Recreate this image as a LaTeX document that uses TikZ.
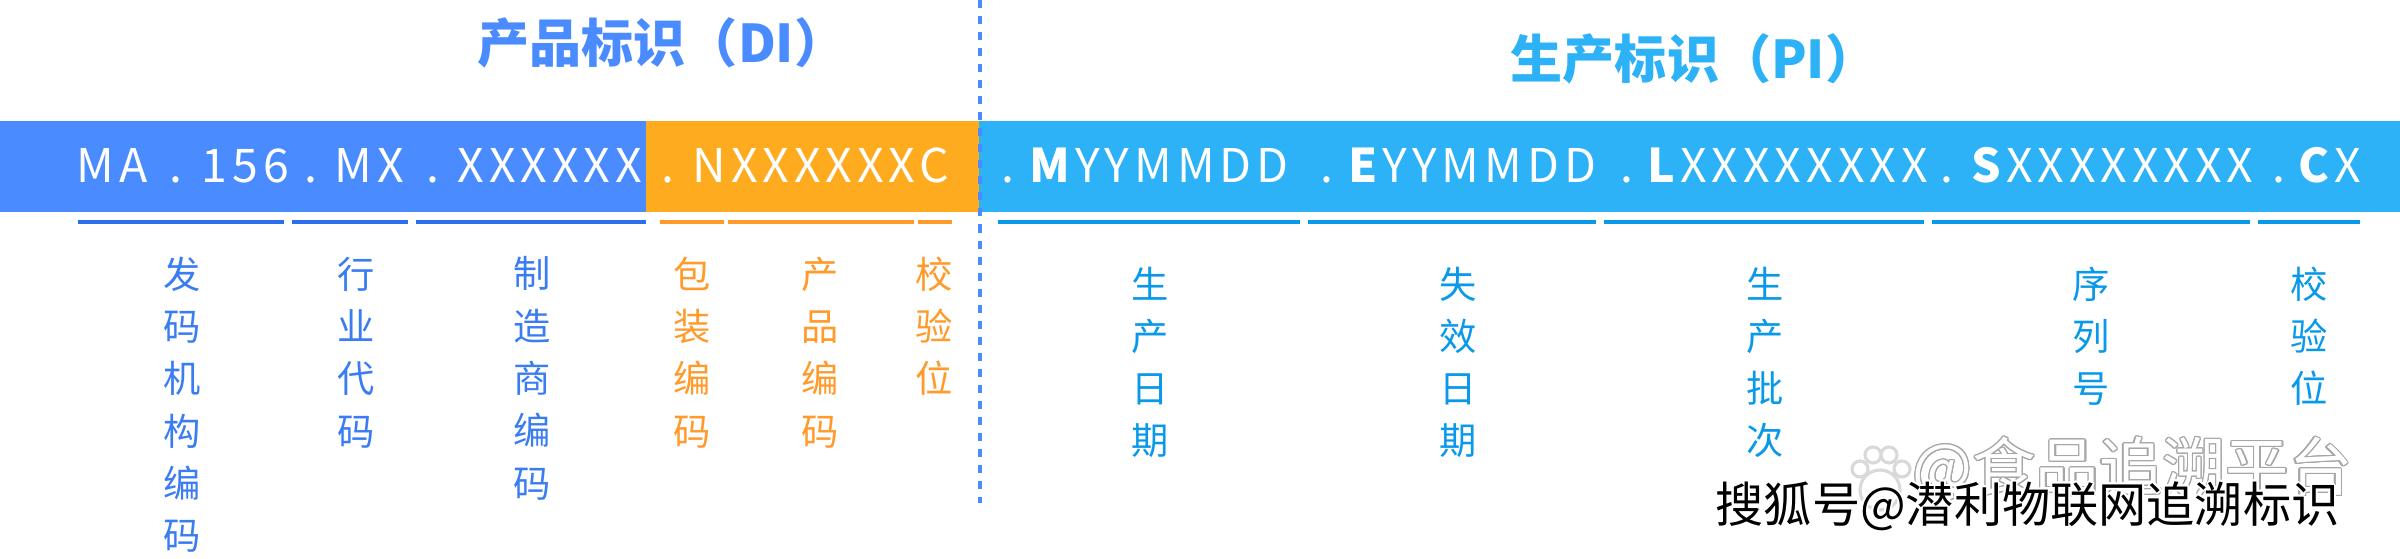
\documentclass[tikz,border=0pt]{standalone}
\usepackage{fontspec}
\usepackage[copies]{contour}
\setmainfont{Noto Sans CJK SC}
\newfontfamily\codefont[LetterSpace=10.6]{Noto Sans CJK SC}
\definecolor{diblue}{HTML}{4A8CFF}
\definecolor{dibar}{HTML}{2B6FF0}
\definecolor{dilabel}{HTML}{3A7DF2}
\definecolor{pkgorange}{HTML}{FFAB1F}
\definecolor{pkglabel}{HTML}{FF9A2B}
\definecolor{pisky}{HTML}{2DB1F7}
\definecolor{pibar}{HTML}{0A99E8}
\tikzset{
  codetext/.style={anchor=base west, inner sep=0pt, text=white, font=\fontsize{13.2}{16}\codefont},
  sidetitle/.style={anchor=center, inner sep=0pt, font=\fontsize{14.8}{17}\selectfont\bfseries},
  collabel/.style={anchor=north, inner sep=0pt, align=center, font=\fontsize{10.6}{14.88}\selectfont},
  underbar/.style={line width=1.3mm*0.35}
}
\begin{document}
\begin{tikzpicture}[x=0.01cm, y=-0.01cm]
            \useasboundingbox (0,0) rectangle (2400,559);
            \fill[diblue] (0,121) rectangle (646,212);
            \fill[pkgorange] (646,121) rectangle (979,212);
            \fill[pisky] (979,121) rectangle (2400,212);
            \draw[diblue, line width=1.14pt, dash pattern=on 2.28pt off 2.28pt] (980,0) -- (980,503);
            % titles
            \node[sidetitle, text=diblue] (titledi) at (662,43) {产品标识（DI）};
            \node[sidetitle, text=pisky] (titlepi) at (1694,59) {生产标识（PI）};
            % code on the bar
            \foreach \x/\s [count=\i] in {76/MA, 169/., 201/156, 304/., 334/MX, 426/., 457/XXXXXX, 661/., 692/NXXXXXXC, 1001/., 1029/{\textbf{M}YYMMDD}, 1320/., 1348/{\textbf{E}YYMMDD}, 1620/., 1647/{\textbf{L}XXXXXXXX}, 1940/., 1971/{\textbf{S}XXXXXXXX}, 2272/., 2298/{\textbf{C}X}}
              \node[codetext] (code\i) at (\x,183) {\s};
            % bars under the code
            \foreach \a/\b in {78/284, 292/408, 416/646}
              \draw[underbar, dibar] (\a,222) -- (\b,222);
            \foreach \a/\b in {660/724, 728/914, 918/952}
              \draw[underbar, pkglabel] (\a,222) -- (\b,222);
            \foreach \a/\b in {998/1300, 1308/1596, 1604/1924, 1932/2250, 2258/2360}
              \draw[underbar, pibar] (\a,222) -- (\b,222);
            % names of the parts
            \node[collabel, text=dilabel] (issuer) at (182,256) {发\\码\\机\\构\\编\\码};
            \node[collabel, text=dilabel] (industry) at (356,256) {行\\业\\代\\码};
            \node[collabel, text=dilabel] (maker) at (532,256) {制\\造\\商\\编\\码};
            \node[collabel, text=pkglabel] (package) at (692,256) {包\\装\\编\\码};
            \node[collabel, text=pkglabel] (product) at (820,256) {产\\品\\编\\码};
            \node[collabel, text=pkglabel] (checkdi) at (934,256) {校\\验\\位};
            \node[collabel, text=pibar] (madeon) at (1150,266) {生\\产\\日\\期};
            \node[collabel, text=pibar] (expires) at (1458,266) {失\\效\\日\\期};
            \node[collabel, text=pibar] (batch) at (1765,266) {生\\产\\批\\次};
            \node[collabel, text=pibar] (serial) at (2091,266) {序\\列\\号};
            \node[collabel, text=pibar] (checkpi) at (2309,266) {校\\验\\位};
            % watermarks
            \foreach \x/\y/\r in {1873/455/8, 1889/455/8, 1860/469/8, 1902/469/8, 1880/490/20}
              \draw[black!15, fill=white, line width=0.9pt] (\x,\y) circle[radius=\r];
            \contourlength{0.35pt}
            \node[anchor=west, inner sep=0pt, text=white, font=\fontsize{18}{20}\selectfont] (markone) at (1912,470) {\contour{black!35}{@食品追溯平台}};
            \contourlength{0.5pt}
            \node[anchor=west, inner sep=0pt, text=black, font=\fontsize{13.7}{16}\selectfont] (marktwo) at (1715,507) {\contour{white}{搜狐号@潜利物联网追溯标识}};
        \end{tikzpicture}
\end{document}
